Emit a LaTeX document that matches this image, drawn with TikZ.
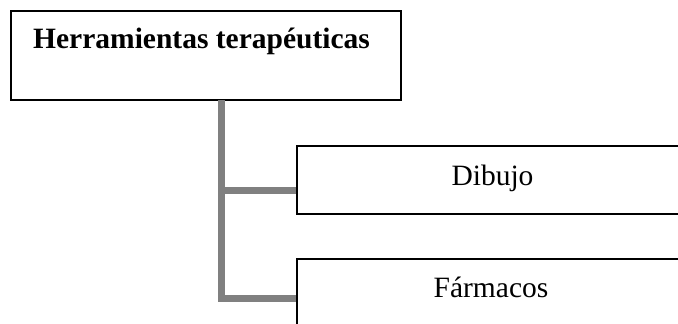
\documentclass[tikz,border=0pt]{standalone}
\usepackage{fontspec}
\setmainfont{Liberation Serif}
\begin{document}
\begin{tikzpicture}[x=1pt,y=-1pt,
  boxshape/.style={draw=black,line width=1.8pt,fill=white,rectangle,anchor=north west,inner sep=0pt},
  labeltext/.style={font=\fontsize{29.5}{35}\selectfont,anchor=base,inner sep=0pt},
  conn/.style={draw={rgb,255:red,128;green,128;blue,128},line width=7pt}]
\useasboundingbox (0,0) rectangle (678,324);
\clip (0,0) rectangle (678,324);
\fill[white] (0,0) rectangle (678,324);
% boxes
\node[boxshape,minimum width=390pt,minimum height=89pt] (root) at (10,10) {};
\node[boxshape,minimum width=400pt,minimum height=68pt] (dibujo) at (296,145) {};
\node[boxshape,minimum width=400pt,minimum height=80pt] (farmacos) at (296,258) {};
% texts
\node[labeltext,anchor=base west,font=\bfseries\fontsize{29.5}{35}\selectfont] (rootlabel) at (33,48) {Herramientas terapéuticas};
\node[labeltext] (dibujolabel) at (492.5,185) {Dibujo};
\node[labeltext] (farmacoslabel) at (491,297) {Fármacos};
% connectors
\coordinate (trunktop) at (221,100);
\coordinate (trunkbot) at (221,302);
\coordinate (j1) at (221,190);
\coordinate (j2) at (221,298);
\draw[conn] (trunktop) -- (trunkbot);
\draw[conn] (j1) -- (j1 -| dibujo.west);
\draw[conn] (j2) -- (j2 -| farmacos.west);
\end{tikzpicture}
\end{document}
